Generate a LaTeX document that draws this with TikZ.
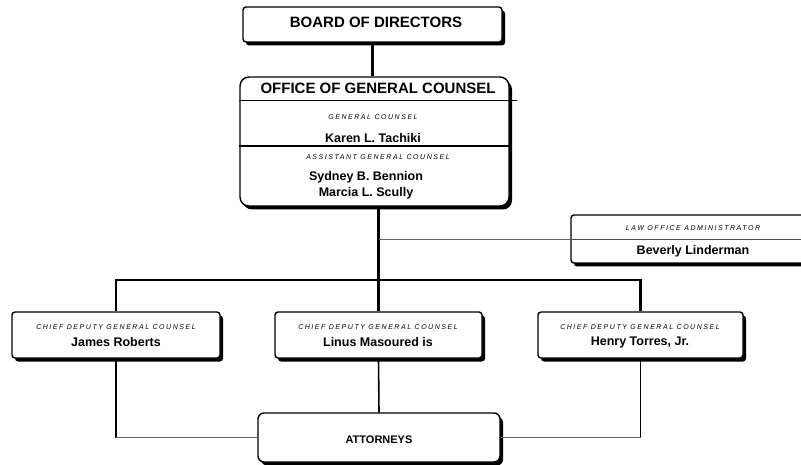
\documentclass[tikz,border=0pt]{standalone}
\usepackage{fontspec}
\setmainfont{Liberation Sans}
\newfontfamily\tagfont[LetterSpace=22]{Liberation Sans}
\usetikzlibrary{shadows,calc}

\tikzset{
  orgbox/.style={draw=black, line width=1.4pt, fill=white, inner sep=0pt,
    rounded corners=3pt,
    drop shadow={shadow xshift=3pt, shadow yshift=-3.5pt, fill=black, opacity=1}},
  headtxt/.style={font=\bfseries\fontsize{15}{17}\selectfont, inner sep=0pt},
  nametxt/.style={font=\bfseries\fontsize{12.5}{14}\selectfont, inner sep=0pt},
  tagtxt/.style={font=\tagfont\itshape\fontsize{7}{8}\selectfont, inner sep=0pt},
  heavy/.style={line width=2.6pt},
  lightrule/.style={line width=0.8pt, draw=black!60},
  plainrule/.style={line width=1.6pt, draw=black},
}

\begin{document}
\begin{tikzpicture}[x=1pt, y=-1pt]
\useasboundingbox (0,0) rectangle (801,465);
\clip (0,0) rectangle (801,465);

% boxes
\node[orgbox, minimum width=259pt, minimum height=35pt] (board) at (372.5,24.5) {};
\node[orgbox, rounded corners=9pt, minimum width=269pt, minimum height=129pt] (office) at (374.5,141.5) {};
\node[orgbox, minimum width=250pt, minimum height=48pt] (law) at (696,239) {};
\node[orgbox, minimum width=208pt, minimum height=46pt] (left) at (116,335) {};
\node[orgbox, minimum width=207pt, minimum height=46pt] (mid) at (378.5,335) {};
\node[orgbox, minimum width=205pt, minimum height=46pt] (right) at (640.5,335) {};
\node[orgbox, rounded corners=6pt, minimum width=242pt, minimum height=49pt] (att) at (379,437.5) {};

% rules inside the office of general counsel
\coordinate (ruleA) at ($(office.north west)+(0,24)$);
\coordinate (ruleB) at ($(office.north west)+(0,70)$);
\draw[line width=0.9pt] (ruleA) -- (ruleA -| 517,0);
\draw[line width=2pt] (ruleB) -- (ruleB -| office.east);

% rule inside the administrator box
\draw[line width=0.8pt, black!70] (law.west) -- (law.east);

% texts
\node[headtxt] (tboard) at (376,22.5) {BOARD OF DIRECTORS};
\node[headtxt] (toffice) at (378,88.5) {OFFICE OF GENERAL COUNSEL};
\node[tagtxt] (tgc) at (373,117) {GENERAL COUNSEL};
\node[nametxt] (tkaren) at (373,138) {Karen L. Tachiki};
\node[tagtxt] (tagc) at (378,157) {ASSISTANT GENERAL COUNSEL};
\node[nametxt] (tsyd) at (366,177) {Sydney B. Bennion};
\node[nametxt] (tmar) at (366,193) {Marcia L. Scully};
\node[tagtxt] (tlaw) at (693,228) {LAW OFFICE ADMINISTRATOR};
\node[nametxt] (tbev) at (693,251) {Beverly Linderman};
\node[tagtxt] (tl1) at (116,327) {CHIEF DEPUTY GENERAL COUNSEL};
\node[nametxt] (tl2) at (116,342.5) {James Roberts};
\node[tagtxt] (tm1) at (378,327) {CHIEF DEPUTY GENERAL COUNSEL};
\node[nametxt] (tm2) at (378,342.5) {Linus Masoured is};
\node[tagtxt] (tr1) at (640,327) {CHIEF DEPUTY GENERAL COUNSEL};
\node[nametxt] (tr2) at (640,342.5) {Henry Torres, Jr.};
\node[font=\bfseries\fontsize{11}{13}\selectfont, inner sep=0pt] (tatt) at (379,440) {ATTORNEYS};

% connectors
\coordinate (bus) at (378,280);
\draw[heavy] (board.south) -- (board.south |- office.north);
\draw[heavy] (office.south -| mid.north) -- (mid.north);
\draw[heavy] (left.north) |- (bus) -| (right.north);
\draw[lightrule] (law.west) -- (law.west -| mid.north);

\draw[plainrule] (mid.south) -- (att.north);
\draw[plainrule] (left.south) -- (left.south |- att.west);
\draw[plainrule] (right.south) -- (right.south |- att.east);
\draw[lightrule] (left.south |- att.west) -- (att.west);
\draw[lightrule] (right.south |- att.east) -- (att.east);
\end{tikzpicture}
\end{document}
